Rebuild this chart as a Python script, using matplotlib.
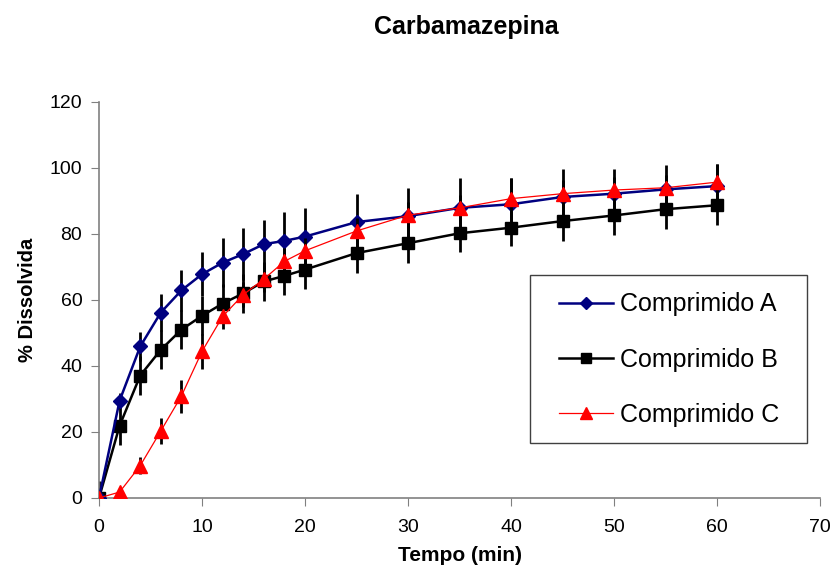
import matplotlib
matplotlib.use('Agg')
import matplotlib.pyplot as plt
from matplotlib.patches import Rectangle

plt.rcParams['font.family'] = ['Liberation Sans', 'DejaVu Sans']

tempo = [0, 2, 4, 6, 8, 10, 12, 14, 16, 18, 20, 25, 30, 35, 40, 45, 50, 55, 60]

comp_a = [0, 29.5, 45.9, 56.2, 62.9, 67.8, 71.3, 73.9, 76.9, 77.9, 79.2,
          83.6, 85.4, 87.9, 89.0, 91.2, 92.2, 93.5, 94.5]
comp_a_sd = [0, 2.2, 4.3, 5.6, 6.2, 6.7, 7.5, 7.9, 7.4, 8.7, 8.7,
             8.5, 8.6, 9.1, 8.1, 8.4, 7.4, 7.3, 6.8]

comp_b = [0, 21.9, 37.1, 44.9, 51.0, 55.2, 58.9, 62.0, 65.6, 67.3, 69.2,
          74.2, 77.2, 80.2, 81.9, 83.9, 85.6, 87.5, 88.7]
comp_b_sd = [5, 5.9, 5.9, 5.9, 5.9, 5.9, 6.0, 6.0, 5.9, 5.8, 5.9,
             6.0, 5.9, 5.8, 5.7, 5.9, 6.0, 6.0, 6.0]

comp_c = [0, 1.8, 9.8, 20.3, 30.9, 44.4, 55.0, 61.6, 66.3, 71.7, 74.9,
          80.9, 85.7, 87.9, 90.7, 92.2, 93.3, 94.0, 95.7]
comp_c_sd = [0, 1.0, 2.5, 3.8, 5.0, 5.4, 3.8, 3.8, 4.0, 4.0, 4.0,
             4.0, 4.0, 4.0, 6.4, 4.0, 4.0, 4.0, 5.5]

fig = plt.figure(figsize=(8.32, 5.65), dpi=100)
ax = fig.add_axes([0.119, 0.1186, 0.8666, 0.701])

ea = ax.errorbar(tempo, comp_a, yerr=comp_a_sd, color='#000080', ecolor='black',
                 elinewidth=2, capsize=0, lw=1.8, marker='D', ms=7,
                 label='Comprimido A', zorder=3)
eb = ax.errorbar(tempo, comp_b, yerr=comp_b_sd, color='black', ecolor='black',
                 elinewidth=2, capsize=0, lw=1.8, marker='s', ms=8.5,
                 label='Comprimido B', zorder=2)
ec = ax.errorbar(tempo, comp_c, yerr=comp_c_sd, color='red', ecolor='black',
                 elinewidth=2, capsize=0, lw=0.9, marker='^', ms=10,
                 label='Comprimido C', zorder=4)

ax.set_xlim(0, 70)
ax.set_ylim(0, 120)
ax.set_xticks(range(0, 71, 10))
ax.set_yticks(range(0, 121, 20))
ax.tick_params(direction='out', length=6, color='#808080', labelsize=14, pad=6)
ax.tick_params(axis='x', pad=9)
for s in ['top', 'right']:
    ax.spines[s].set_visible(False)
for s in ['left', 'bottom']:
    ax.spines[s].set_color('#808080')
    ax.spines[s].set_linewidth(1.2)

ax.set_xlabel('Tempo (min)', fontsize=15, fontweight='bold', labelpad=7)
ax.set_ylabel('% Dissolvida', fontsize=14.5, fontweight='bold', labelpad=9)
fig.text(0.56, 0.952, 'Carbamazepina', fontsize=18, fontweight='bold',
         ha='center', va='center')

# legend box drawn separately so the padding matches the original
ax.add_patch(Rectangle((0.598, 0.139), 0.384, 0.424, transform=ax.transAxes,
                       facecolor='white', edgecolor='#404040', lw=1, zorder=5))
leg = ax.legend(handles=[ea[0], eb[0], ec[0]],
                labels=['Comprimido A', 'Comprimido B', 'Comprimido C'],
                loc='upper left', bbox_to_anchor=(0.638, 0.519),
                fontsize=18, frameon=False, borderpad=0, borderaxespad=0,
                labelspacing=1.25, handlelength=2.15, handletextpad=0.3,
                markerscale=0.85)
leg.set_zorder(6)

fig.savefig('out.png', dpi=100)
